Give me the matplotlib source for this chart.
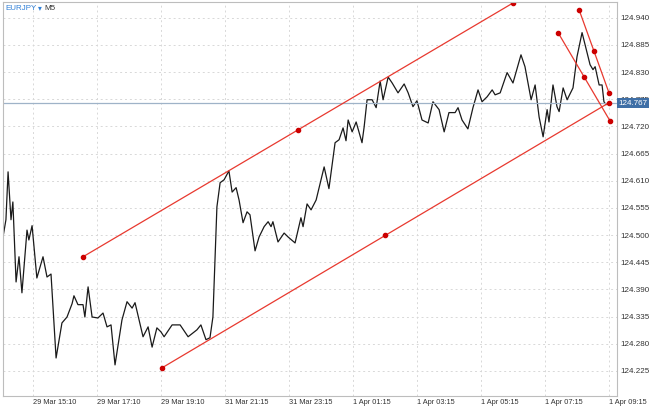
import numpy as np
import matplotlib.pyplot as plt

plt.rcParams['font.family'] = ['Liberation Sans', 'DejaVu Sans']

# EURJPY M5 — bar index vs price
bars = [0, 1.1, 1.9, 3, 3.7, 4.9, 6, 7.1, 9, 9.7, 10.9, 12.7, 15, 16.5, 18, 19.9, 22.1, 24,
        25.9, 26.6, 28.1, 30, 30.7, 31.9, 33.4, 35.6, 37.5, 39, 40.5, 42, 44.6, 46.5, 48.4,
        49.5, 52.5, 54.4, 55.9, 57.7, 59.2, 60.4, 63.4, 66.4, 69.4, 72.7, 74.2, 76.1, 77.6,
        78.7, 80.2, 81.4, 82.9, 84.7, 85.9, 87.4, 88.5, 90, 91.5, 92.6, 94.5, 96, 97.9, 99.4,
        100.5, 101.2, 103.1, 105.4, 106.9, 109.5, 111.7, 112.5, 114, 115.5, 117.4, 120.4,
        122.2, 124.5, 126, 127.5, 128.6, 129.4, 130.9, 132.4, 134.6, 135.4, 136.5, 138.4,
        139.9, 141.4, 142.5, 144.4, 145.9, 148.1, 150.4, 151.9, 153.7, 155.2, 157.1, 159.4,
        161.2, 163.5, 165.4, 167.2, 169.5, 170.6, 172.1, 174.3, 176.2, 178.1, 179.6, 181.5,
        183.4, 184.5, 186.4, 189, 191.2, 194.2, 195.7, 198, 199.5, 201, 202.5, 204, 204.7,
        206.2, 207.7, 208.5, 210, 211.5, 213.7, 215.2, 217.1, 217.8, 220.1, 221.2, 222,
        223.5, 224.6, 225.3, 226.1, 227.2]
prices = [124.496, 124.531, 124.628, 124.531, 124.567, 124.405, 124.456, 124.383, 124.510,
          124.490, 124.519, 124.413, 124.456, 124.415, 124.421, 124.251, 124.322, 124.334,
          124.361, 124.377, 124.359, 124.359, 124.334, 124.395, 124.334, 124.332, 124.342,
          124.314, 124.318, 124.237, 124.328, 124.365, 124.352, 124.363, 124.294, 124.314,
          124.273, 124.312, 124.304, 124.294, 124.318, 124.318, 124.294, 124.308, 124.318,
          124.288, 124.292, 124.334, 124.557, 124.606, 124.612, 124.630, 124.587, 124.596,
          124.571, 124.525, 124.547, 124.541, 124.468, 124.496, 124.517, 124.527, 124.517,
          124.527, 124.486, 124.504, 124.496, 124.484, 124.535, 124.517, 124.563, 124.551,
          124.571, 124.638, 124.594, 124.687, 124.693, 124.717, 124.691, 124.733, 124.709,
          124.729, 124.687, 124.719, 124.774, 124.774, 124.758, 124.812, 124.774, 124.820,
          124.808, 124.788, 124.806, 124.788, 124.760, 124.772, 124.733, 124.727, 124.770,
          124.754, 124.709, 124.748, 124.748, 124.758, 124.733, 124.715, 124.758, 124.794,
          124.770, 124.780, 124.794, 124.784, 124.788, 124.829, 124.808, 124.865, 124.841,
          124.774, 124.804, 124.739, 124.699, 124.754, 124.729, 124.804, 124.760, 124.750,
          124.798, 124.774, 124.798, 124.861, 124.910, 124.895, 124.845, 124.835, 124.841,
          124.804, 124.804, 124.770, 124.764, 124.768]

# trend-line anchors (bar, price)
channel_hi = ([30, 191.2], [124.456, 124.970])
channel_lo = ([59.6, 227.2], [124.231, 124.768])
line_a = ([208.1, 227.6], [124.910, 124.731])
line_b = ([216, 227.2], [124.956, 124.788])

y_ticks = [124.225 + 0.055 * i for i in range(14)]
x_tick_pos = [11.25 + 24 * i for i in range(10)]
x_labels = ['29 Mar 15:10', '29 Mar 17:10', '29 Mar 19:10', '31 Mar 21:15', '31 Mar 23:15',
            '1 Apr 01:15', '1 Apr 03:15', '1 Apr 05:15', '1 Apr 07:15', '1 Apr 09:15']
last_price = 124.767

fig = plt.figure(figsize=(6.5, 4.09), dpi=100)
ax = fig.add_axes([3 / 650, 13 / 409, 614 / 650, 394 / 409])

ax.set_xlim(0, 230.2)
ax.set_ylim(124.174, 124.972)
ax.grid(True, color='#d8d8d8', linestyle=(0, (2, 3)), lw=0.7)

ax.plot(bars, prices, color='#1a1a1a', lw=0.9)
ax.axhline(last_price, color='#9fb3c8', lw=0.9)

red = '#e8392f'
for xs, ys in (channel_hi, channel_lo, line_a, line_b):
    ax.plot(xs, ys, color=red, lw=0.9)
    mx, my = np.mean(xs), np.mean(ys)
    ax.plot(list(xs) + [mx], list(ys) + [my], 'o', color='#cc0000', ms=3, ls='none')

ax.yaxis.tick_right()
ax.set_yticks(y_ticks)
ax.set_yticklabels([f'{v:.3f}' for v in y_ticks], fontsize=5.8, color='#333333')
ax.set_xticks(x_tick_pos)
ax.set_xticklabels(x_labels, fontsize=5.3, color='#333333', ha='left')
ax.tick_params(length=0, pad=2.5)
for s in ax.spines.values():
    s.set_color('#bdbdbd')

ax.text(1.003, last_price, f'{last_price:.3f}', transform=ax.get_yaxis_transform(),
        va='center', ha='left', fontsize=5.8, color='white',
        bbox=dict(boxstyle='square,pad=0.2', fc='#3f6fa6', ec='none'))

fig.text(5 / 650, 1 - 8 / 409, 'EURJPY', color='#2f7fd6', fontsize=5.8, va='center')
fig.text(38 / 650, 1 - 8 / 409, '▾', color='#2f7fd6', fontsize=5.5, va='center',
         family=['DejaVu Sans'])
fig.text(44 / 650, 1 - 8 / 409, 'M5', color='#333333', fontsize=5.8, va='center')

fig.savefig('out.png', dpi=100)
